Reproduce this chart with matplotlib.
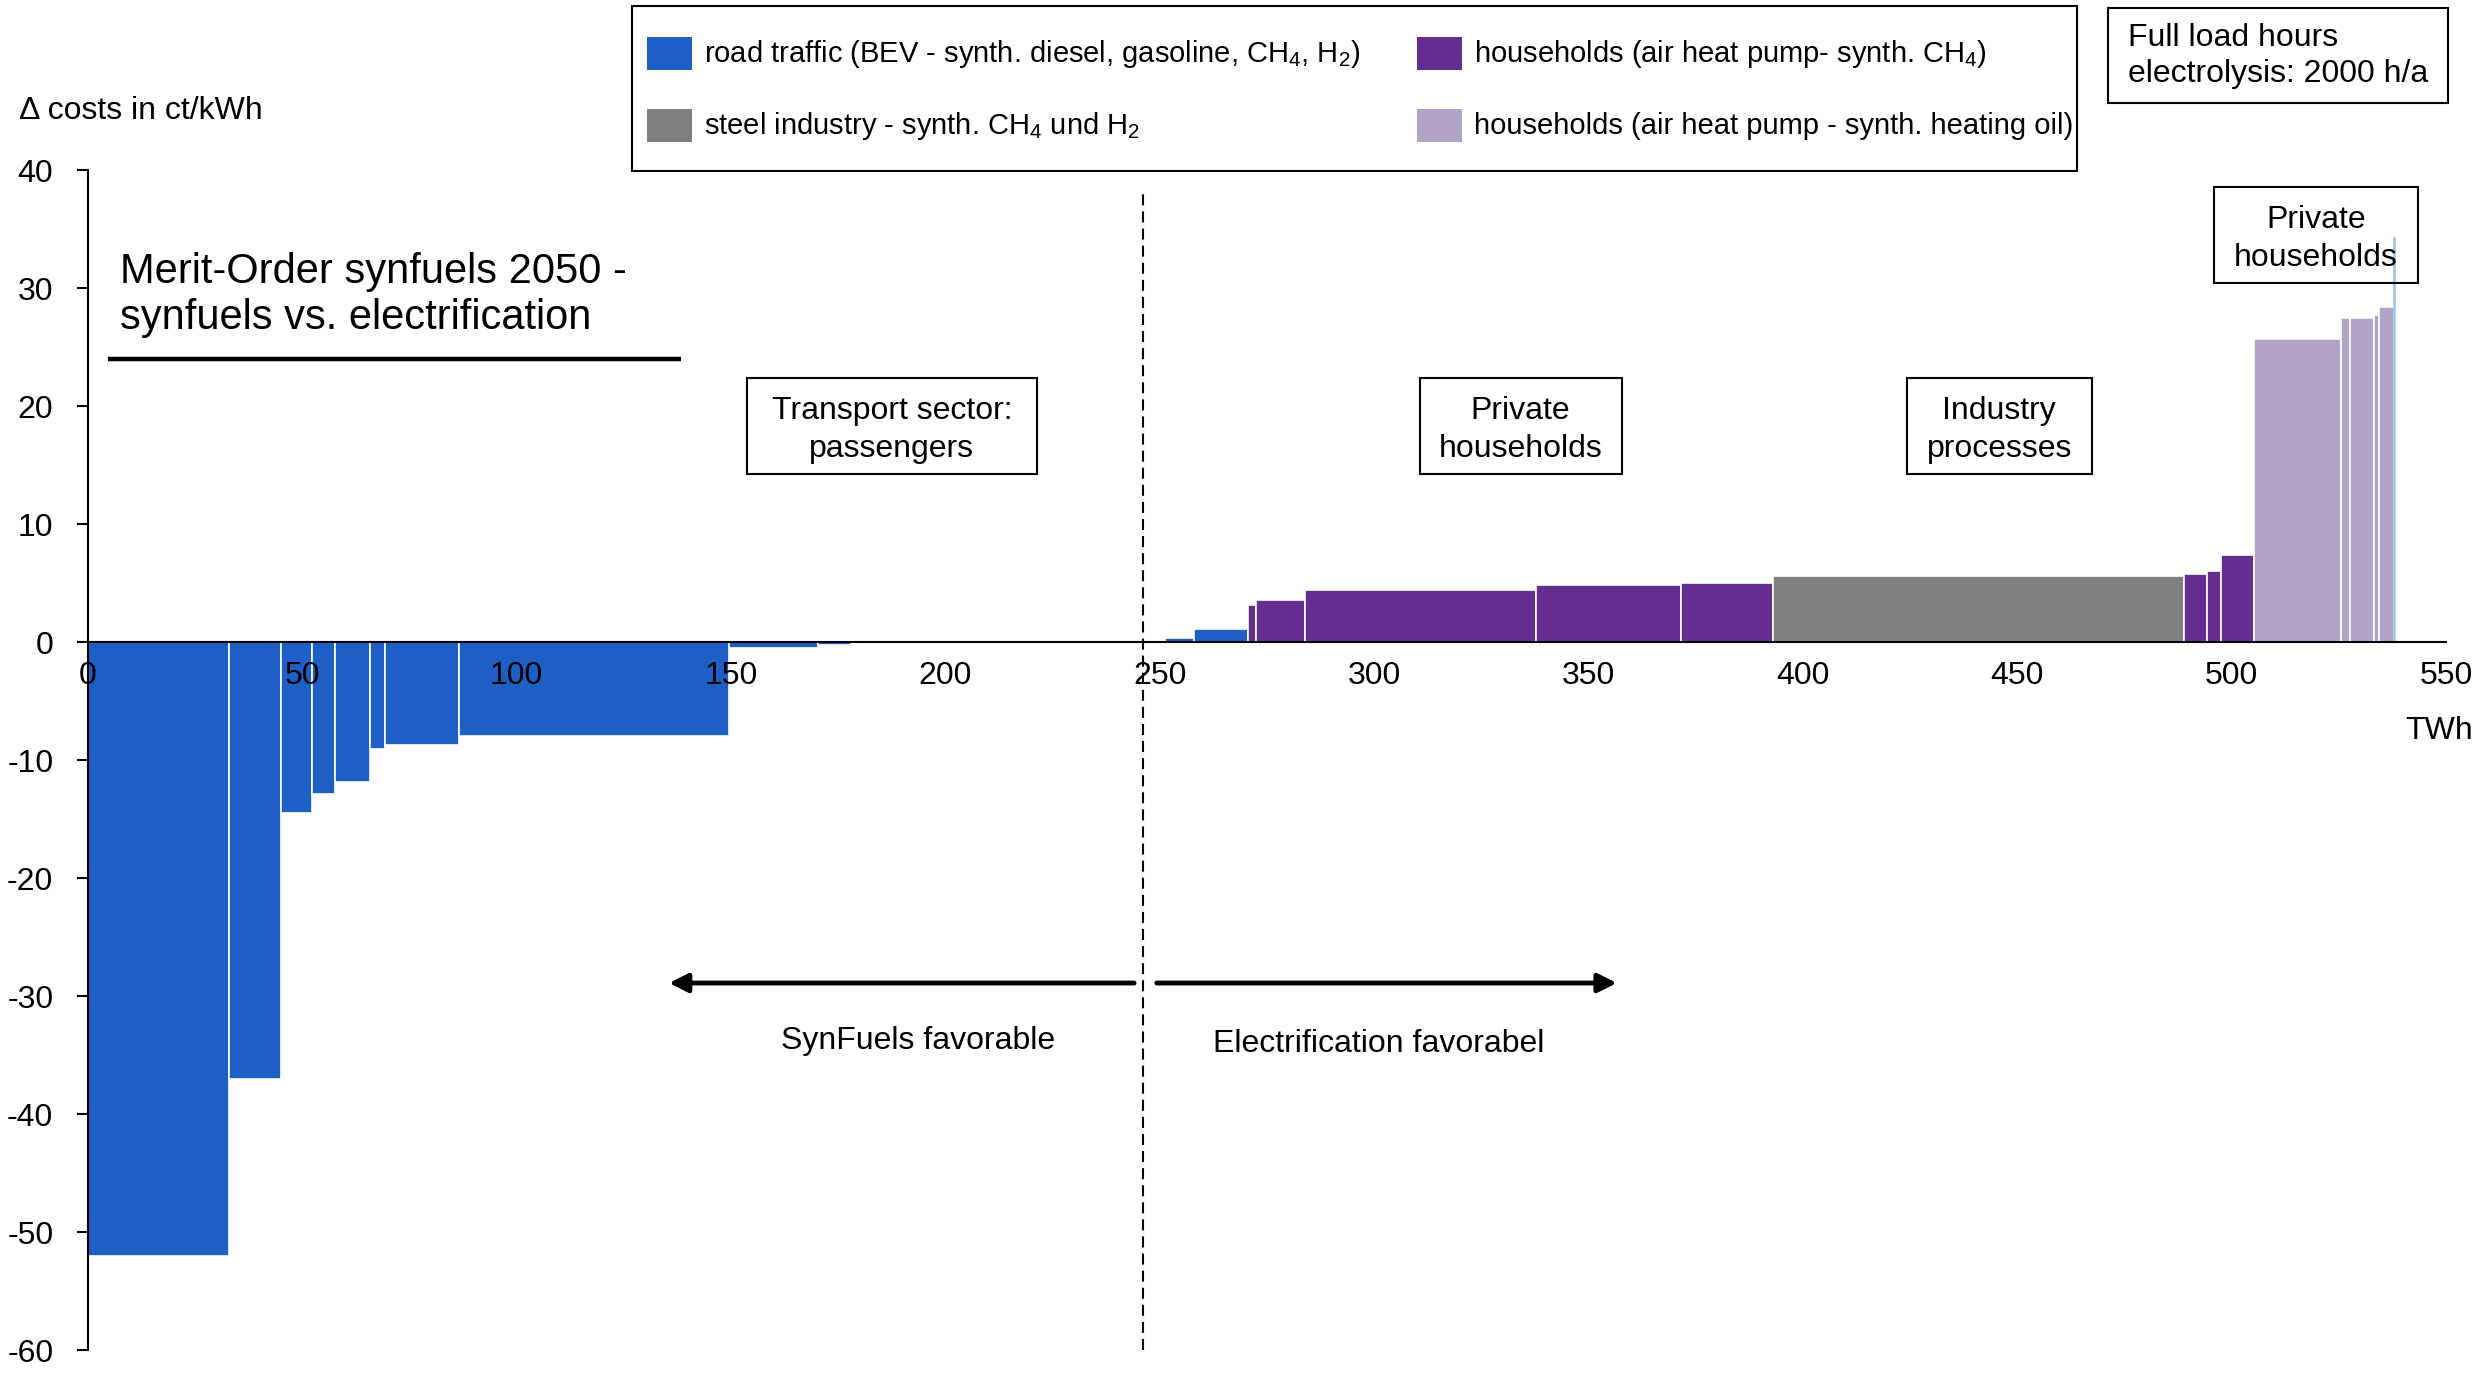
import matplotlib.pyplot as plt
import numpy as np
from matplotlib.patches import FancyArrowPatch, Rectangle

plt.rcParams["font.family"] = ["Liberation Sans", "DejaVu Sans"]
plt.rcParams["mathtext.fontset"] = "custom"
plt.rcParams["mathtext.rm"] = "Liberation Sans"
plt.rcParams["mathtext.it"] = "Liberation Sans:italic"
plt.rcParams["axes.unicode_minus"] = False

# merit order segments, left to right
# width = energy demand in TWh, height = cost difference in ct/kWh
segment_twh = [33.0, 12.0, 7.3, 5.2, 8.3, 3.5, 17.2, 63.0, 20.8, 7.7,
               73.3, 6.7, 12.6, 1.8, 11.5, 53.9, 33.7, 21.5, 96.0, 5.3,
               3.3, 7.7, 20.2, 2.1, 5.7, 1.0, 3.6, 0.3]
segment_cost = [-52.0, -37.0, -14.5, -12.9, -11.9, -9.1, -8.7, -8.0, -0.5, -0.25,
                0.0, 0.3, 1.1, 3.1, 3.6, 4.4, 4.8, 5.0, 5.6, 5.75,
                6.05, 7.35, 25.7, 27.5, 27.5, 27.7, 28.4, 34.2]
segment_sector = ["road"] * 13 + ["hh_ch4"] * 5 + ["steel"] + ["hh_ch4"] * 3 \
    + ["hh_oil"] * 5 + ["road_other"]

sector_colors = {
    "road": "#1E5FC5",
    "road_other": "#9DC3E6",
    "hh_ch4": "#662D91",
    "steel": "#808080",
    "hh_oil": "#B1A2C8",
}

legend_sectors = ["road", "steel", "hh_ch4", "hh_oil"]
legend_labels = [
    r"road traffic (BEV - synth. diesel, gasoline, CH$_4$, H$_2$)",
    r"steel industry - synth. CH$_4$ und H$_2$",
    r"households (air heat pump- synth. CH$_4$)",
    "households (air heat pump - synth. heating oil)",
]

x_ticks = list(range(0, 551, 50))
y_ticks = list(range(-60, 41, 10))

W, H = 2483, 1376


def fx(x):
    return x / W


def fy(y):
    return 1 - y / H


def boxed_label(ax, x0, x1, y0, y1, text):
    # framed sector label, box given in data units
    ax.add_patch(Rectangle((x0, y0), x1 - x0, y1 - y0, fill=False,
                           edgecolor="black", linewidth=1.5, zorder=4))
    ax.text((x0 + x1) / 2, (y0 + y1) / 2 - 0.35, text, ha="center", va="center",
            fontsize=23, linespacing=1.35, zorder=5)


fig = plt.figure(figsize=(W / 100, H / 100), dpi=100)
ax = fig.add_axes([fx(88), fy(1350), fx(2446) - fx(88), fy(170) - fy(1350)])

# bars
widths = np.array(segment_twh)
lefts = np.concatenate([[0], np.cumsum(widths)[:-1]])
colors = [sector_colors[s] for s in segment_sector]
edges = ["white" if s != "road_other" else sector_colors[s] for s in segment_sector]
ax.bar(lefts, segment_cost, width=widths, align="edge", color=colors,
       edgecolor=edges, linewidth=1.2, zorder=1)

ax.set_xlim(0, 550)
ax.set_ylim(-60, 40)
ax.set_xticks(x_ticks)
ax.set_yticks(y_ticks)
ax.spines["bottom"].set_position(("data", 0))
ax.spines["top"].set_visible(False)
ax.spines["right"].set_visible(False)
ax.spines["left"].set_linewidth(1.5)
ax.spines["bottom"].set_linewidth(1.5)
ax.tick_params(axis="x", length=0, pad=14, labelsize=23)
ax.tick_params(axis="y", length=8, width=1.5, pad=17, labelsize=23)

# divider between synfuel and electrification side
ax.vlines(246, -60, 38.3, colors="black", linewidth=1.5,
          linestyles=(0, (5.3, 2.9)), clip_on=False, zorder=3)

for tail, head in [(244, 135.5), (249.3, 356.6)]:
    ax.add_patch(FancyArrowPatch((tail, -28.9), (head, -28.9), arrowstyle="-|>",
                                 mutation_scale=28, linewidth=3.5, color="black",
                                 shrinkA=0, shrinkB=0, zorder=4))
ax.text(193.6, -33.8, "SynFuels favorable", ha="center", va="center", fontsize=23)
ax.text(301.0, -34.1, "Electrification favorabel", ha="center", va="center", fontsize=23)

# title block with underline
ax.text(7.5, 29.4, "Merit-Order synfuels 2050 -\nsynfuels vs. electrification",
        ha="left", va="center", fontsize=30, linespacing=1.18)
ax.plot([4.7, 138.3], [24.0, 24.0], color="black", linewidth=3.2,
        solid_capstyle="butt")

# sector labels
boxed_label(ax, 153.7, 221.3, 14.2, 22.4, "Transport sector:\npassengers")
boxed_label(ax, 310.6, 357.7, 14.2, 22.4, "Private\nhouseholds")
boxed_label(ax, 424.2, 467.4, 14.2, 22.4, "Industry\nprocesses")
boxed_label(ax, 496.0, 543.4, 30.4, 38.6, "Private\nhouseholds")

# axis captions
fig.text(fx(19), fy(111), "Δ costs in ct/kWh", ha="left", va="center", fontsize=23)
fig.text(fx(2473), fy(731), "TWh", ha="right", va="center", fontsize=23)

# legend frame drawn by hand in figure pixels
fig.add_artist(Rectangle((fx(632), fy(171)), fx(2077) - fx(632), fy(6) - fy(171),
                         transform=fig.transFigure, fill=False,
                         edgecolor="black", linewidth=1.5))
col_x = [647, 1417]
row_y = [54, 126]
for i, (sector, label) in enumerate(zip(legend_sectors, legend_labels)):
    px, py = col_x[i // 2], row_y[i % 2]
    fig.add_artist(Rectangle((fx(px), fy(py + 16)), fx(45), fy(0) - fy(33),
                             transform=fig.transFigure,
                             facecolor=sector_colors[sector], edgecolor="none"))
    fig.text(fx(px + 57), fy(py), label, ha="left", va="center", fontsize=21)

# full load hours note
fig.add_artist(Rectangle((fx(2108), fy(103)), fx(2448) - fx(2108), fy(8) - fy(103),
                         transform=fig.transFigure, fill=False,
                         edgecolor="black", linewidth=1.5))
fig.text(fx(2128), fy(56), "Full load hours\nelectrolysis: 2000 h/a",
         ha="left", va="center", fontsize=23, linespacing=1.25)

fig.savefig("out.png", dpi=100)
